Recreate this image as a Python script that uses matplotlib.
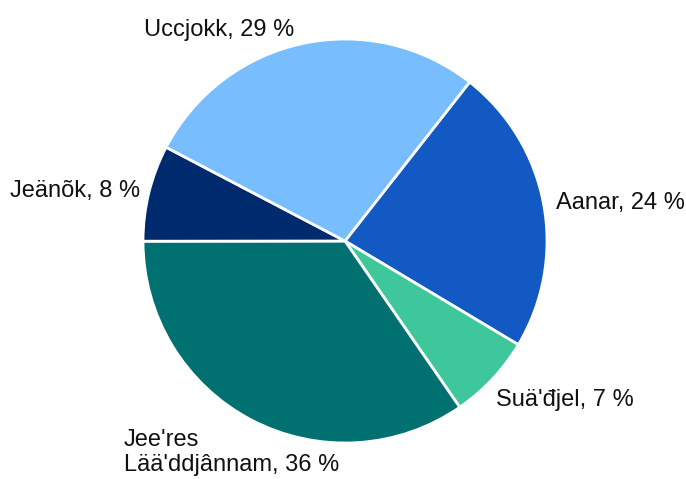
import numpy as np
import matplotlib
matplotlib.use("Agg")
import matplotlib.pyplot as plt

plt.rcParams['font.family'] = ['Liberation Sans', 'DejaVu Sans']

# slices, clockwise from the top right
names = ["Aanar", "Suä'đjel", "Jee'res\nLää'ddjânnam", "Jeänõk", "Uccjokk"]
shares = [23.0, 6.8, 34.6, 7.7, 27.9]
share_labels = ["24 %", "7 %", "36 %", "8 %", "29 %"]
colors = ["#1259c3", "#3ec79a", "#007070", "#002a6e", "#78bdfd"]

fig = plt.figure(figsize=(6.86, 4.79), dpi=100)
ax = fig.add_axes([0, 0, 1, 1])

wedges, _ = ax.pie(shares, colors=colors, startangle=51.9, counterclock=False,
                   wedgeprops=dict(edgecolor="white", linewidth=2))

# label placement per slice: distance, ha, va, nudge in points
placement = [
    (1.04, "left", "center", 3, 0),
    (1.06, "left", "top", -3.6, -1.4),
    (1.05, "center", "top", -10.8, 0),
    (1.03, "right", "center", -2, 0),
    (1.07, "right", "center", -3.6, 0),
]
for w, name, lab, (d, ha, va, nx, ny) in zip(wedges, names, share_labels, placement):
    mid = np.deg2rad((w.theta1 + w.theta2) / 2)
    x, y = d * np.cos(mid), d * np.sin(mid)
    ax.annotate(f"{name}, {lab}", (x, y), xytext=(nx, ny), textcoords="offset points",
                ha=ha, va=va, fontsize=17, multialignment="left", color="#111111")

# keep the pie at the same pixel scale as the reference
r_px = 202
cx, cy = 345, 241
ax.set_xlim(-cx / r_px, (686 - cx) / r_px)
ax.set_ylim(-(479 - cy) / r_px, cy / r_px)
ax.set_aspect("auto")
ax.axis("off")

fig.savefig("out.png", dpi=100)
